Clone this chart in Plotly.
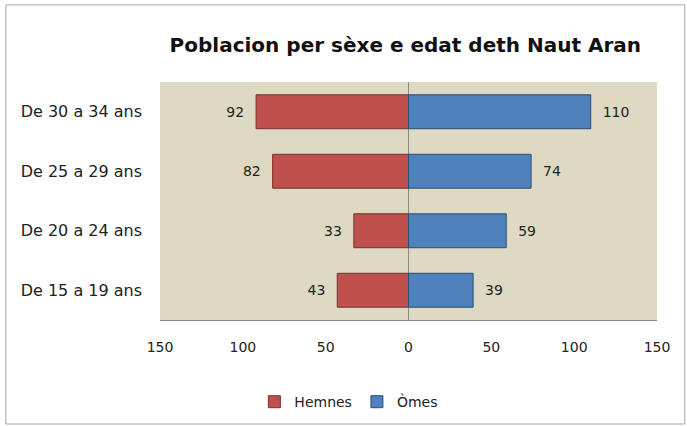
import plotly.graph_objects as go

# -------------------------------------------------------
# Data
# -------------------------------------------------------

age_groups = ["De 15 a 19 ans", "De 20 a 24 ans", "De 25 a 29 ans", "De 30 a 34 ans"]
hemnes = [43, 33, 82, 92]
omes = [39, 59, 74, 110]

tick_vals = [-150, -100, -50, 0, 50, 100, 150]
tick_text = ["150", "100", "50", "0", "50", "100", "150"]

FONT = "DejaVu Sans, Verdana, sans-serif"
PAD = "\u00a0\u00a0"

fig = go.Figure()

fig.add_trace(
    go.Bar(
        y=age_groups,
        x=[-v for v in hemnes],
        orientation="h",
        name="Hemnes",
        text=[str(v) + PAD for v in hemnes],
        textposition="outside",
        textfont=dict(size=14, color="#222222", family=FONT),
        marker=dict(color="#c0504d", line=dict(color="#7a2e2c", width=1)),
        cliponaxis=False,
    )
)

fig.add_trace(
    go.Bar(
        y=age_groups,
        x=omes,
        orientation="h",
        name="Òmes",
        text=[PAD + str(v) for v in omes],
        textposition="outside",
        textfont=dict(size=14, color="#222222", family=FONT),
        marker=dict(color="#4f81bd", line=dict(color="#2c4d75", width=1)),
        cliponaxis=False,
    )
)

fig.update_layout(
    width=687,
    height=426,
    barmode="relative",
    bargap=0.43,
    plot_bgcolor="#ddd9c3",
    paper_bgcolor="white",
    font=dict(family=FONT, size=14, color="#222222"),
    title=dict(
        text="<b>Poblacion per sèxe e edat deth Naut Aran</b>",
        x=0.59,
        xanchor="center",
        y=0.895,
        yanchor="middle",
        automargin=False,
        font=dict(size=20, color="#111111", family=FONT),
    ),
    margin=dict(l=160, r=30, t=82, b=106, autoexpand=False),
    legend=dict(
        orientation="h",
        x=0.38,
        xanchor="center",
        y=-0.345,
        yanchor="middle",
        font=dict(size=14, family=FONT),
        itemwidth=30,
        traceorder="normal",
    ),
    xaxis=dict(
        range=[-150, 150],
        tickvals=tick_vals,
        ticktext=tick_text,
        showgrid=False,
        zeroline=True,
        zerolinecolor="#8a8a8a",
        zerolinewidth=1,
        showline=True,
        linecolor="#8a8a8a",
        ticks="",
        automargin=False,
        ticklabelstandoff=14,
        tickfont=dict(size=14, family=FONT),
    ),
    yaxis=dict(
        showgrid=False,
        ticks="",
        automargin=False,
        ticklabelstandoff=17,
        tickfont=dict(size=16, family=FONT),
    ),
    shapes=[
        dict(
            type="rect",
            xref="paper",
            yref="paper",
            x0=-0.31,
            x1=1.056,
            y0=-0.437,
            y1=1.324,
            line=dict(color="#a6a6a6", width=1),
            layer="below",
        )
    ],
)

fig.write_html(
    "out.html",
    config={"displayModeBar": False},
    post_script="document.body.style.margin='0';",
)
